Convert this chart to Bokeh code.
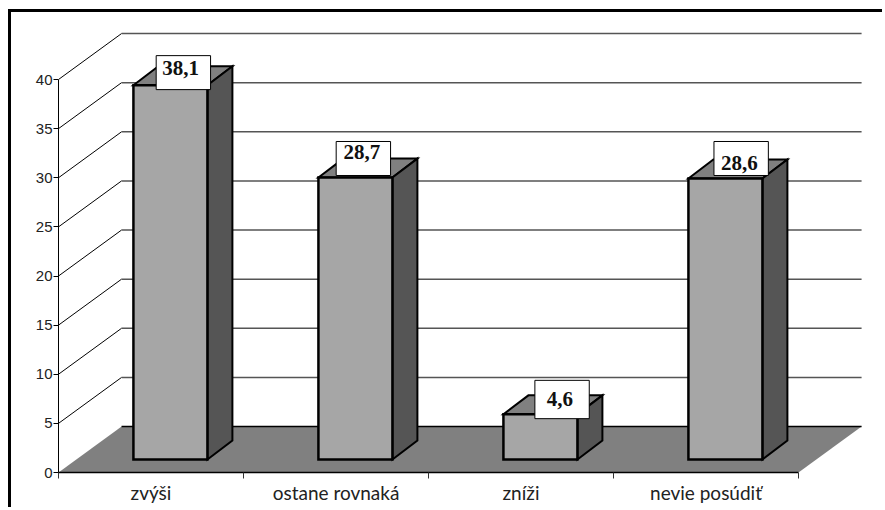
from bokeh.plotting import figure
from bokeh.models import Range1d, FixedTicker, LinearAxis
from bokeh.core.properties import value
from bokeh.embed import file_html
from bokeh.resources import INLINE

categories = ["zvýši", "ostane rovnaká", "zníži", "nevie posúdiť"]
values = [38.1, 28.7, 4.6, 28.6]
value_labels = ["38,1", "28,7", "4,6", "28,6"]
y_ticks = [0, 5, 10, 15, 20, 25, 30, 35, 40]

# layout of the pseudo-3D scene, in axis units
WALL_DX, WALL_DY = 0.341, 4.68
BAR_DX, BAR_DY = 0.135, 1.93
BAR_BASE = 1.32
BAR_L, BAR_R = 0.405, 0.805
X_END, Y_END = 827 / 185, 460 / 9.825
# label boxes: centre x, centre y, half width, half height; text centre y
box_x = [0.675, 1.648, 2.722, 3.69]
box_y = [40.7, 31.96, 7.43, 31.96]
box_h = [1.73, 1.73, 1.95, 1.73]
box_w = 0.147
text_x = [0.66, 1.64, 2.71, 3.68]
text_y = [41.2, 32.6, 7.53, 31.5]

p = figure(width=874, height=498, output_backend="svg", toolbar_location=None,
           x_range=Range1d(0, X_END), y_range=Range1d(0, Y_END),
           min_border_left=47, min_border_right=0, min_border_top=0, min_border_bottom=38,
           outline_line_color=None, x_axis_type=None, y_axis_type=None,
           background_fill_color="white", border_fill_color="white")
p.styles = {"border-left": "3px solid black", "border-top": "3px solid black",
            "margin-left": "8px", "margin-top": "9px"}
p.grid.visible = False

# left axis
ya = LinearAxis(ticker=FixedTicker(ticks=y_ticks), bounds=(0, 40))
ya.axis_line_color = "black"
ya.axis_line_width = 1
ya.major_tick_in = 0
ya.major_tick_out = 5
ya.major_tick_line_color = "black"
ya.minor_tick_line_color = None
ya.major_label_standoff = 1
ya.major_label_text_font = "Liberation Sans"
ya.major_label_text_font_size = "15px"
ya.major_label_text_color = "#222222"
p.add_layout(ya, "left")

# bottom axis: labels at the category centres, ticks between them
centres = [i + 0.5 for i in range(len(categories))]
xa = LinearAxis(ticker=FixedTicker(ticks=centres, minor_ticks=list(range(len(categories) + 1))),
                bounds=(0, len(categories)))
xa.major_label_overrides = {c: t for c, t in zip(centres, categories)}
xa.axis_line_color = "black"
xa.axis_line_width = 1.5
xa.major_tick_line_color = None
xa.major_tick_in = 0
xa.major_tick_out = 0
xa.minor_tick_in = 0
xa.minor_tick_out = 6
xa.minor_tick_line_color = "#333333"
xa.major_label_standoff = 2
xa.major_label_text_font = "Lato"
xa.major_label_text_font_size = "19px"
xa.major_label_text_color = "#222222"
p.add_layout(xa, "below")

n = len(categories)
wall_ticks = [t for t in y_ticks if t > 0]
# diagonal wall lines
p.segment(x0=[0] * len(wall_ticks), y0=wall_ticks,
          x1=[WALL_DX] * len(wall_ticks), y1=[t + WALL_DY for t in wall_ticks],
          line_color="black", line_width=1)
# back wall lines
p.segment(x0=[WALL_DX] * len(wall_ticks), y0=[t + WALL_DY for t in wall_ticks],
          x1=[WALL_DX + n] * len(wall_ticks), y1=[t + WALL_DY for t in wall_ticks],
          line_color="#555555", line_width=1.5)
# floor
p.patch(x=[0, n, n + WALL_DX, WALL_DX], y=[0, 0, WALL_DY, WALL_DY],
        fill_color="#808080", line_color=None)
p.line(x=[WALL_DX, n + WALL_DX], y=[WALL_DY, WALL_DY], line_color="black", line_width=1.5)

# bars
xl = [i + BAR_L for i in range(n)]
xr = [i + BAR_R for i in range(n)]
tops = [BAR_BASE + v for v in values]
side_x = [[r, r + BAR_DX, r + BAR_DX, r] for r in xr]
side_y = [[BAR_BASE, BAR_BASE + BAR_DY, t + BAR_DY, t] for t in tops]
top_x = [[l, l + BAR_DX, r + BAR_DX, r] for l, r in zip(xl, xr)]
top_y = [[t, t + BAR_DY, t + BAR_DY, t] for t in tops]
p.patches(xs=top_x, ys=top_y, fill_color="#808080", line_color="black", line_width=2,
          line_join="miter")
p.patches(xs=side_x, ys=side_y, fill_color="#555555", line_color="black", line_width=2,
          line_join="miter")
p.quad(left=xl, right=xr, bottom=[BAR_BASE] * n, top=tops, fill_color="#a6a6a6",
       line_color="black", line_width=2.5, line_join="miter")

# value labels
p.quad(left=[x - box_w for x in box_x], right=[x + box_w for x in box_x],
       bottom=[y - h for y, h in zip(box_y, box_h)], top=[y + h for y, h in zip(box_y, box_h)],
       fill_color="white", line_color="black", line_width=1)
p.text(x=text_x, y=text_y, text=value_labels, text_align="center", text_baseline="middle",
       text_font=value("Liberation Serif"), text_font_style="bold", text_font_size="21px",
       text_color="#111111")

open("out.html", "w").write(file_html(p, INLINE))
